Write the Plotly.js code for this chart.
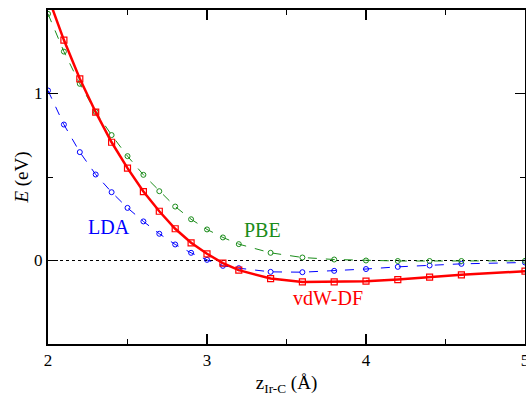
<!DOCTYPE html>
<html>
<head>
<meta charset="utf-8">
<script src="https://cdn.plot.ly/plotly-3.0.1.min.js"></script>
<style>html,body{margin:0;padding:0;background:#fff;}#chart{width:526px;height:396px;}</style>
</head>
<body>
<div id="chart"></div>
<script>
// Ir-C distance (Å)
const zLDA = [2.0,2.1,2.2,2.3,2.4,2.5,2.6,2.7,2.8,2.9,3.0,3.1,3.2,3.4,3.6,3.8,4.0,4.2,4.4,4.6,5.0];
const eLDA = [1.018,0.814,0.649,0.515,0.409,0.315,0.234,0.160,0.096,0.046,0.004,-0.032,-0.046,-0.068,-0.070,-0.062,-0.051,-0.038,-0.030,-0.020,-0.012];
const zPBE = [2.0,2.1,2.2,2.3,2.4,2.5,2.6,2.7,2.8,2.9,3.0,3.1,3.2,3.4,3.6,3.8,4.0,4.2,4.4,4.6,5.0];
const ePBE = [1.477,1.251,1.058,0.890,0.751,0.625,0.513,0.415,0.323,0.247,0.186,0.138,0.098,0.046,0.018,0.006,0.000,-0.003,-0.003,-0.003,-0.002];
const zVDW = [2.0,2.1,2.2,2.3,2.4,2.5,2.6,2.7,2.8,2.9,3.0,3.1,3.2,3.4,3.6,3.8,4.0,4.2,4.4,4.6,5.0];
const eVDW = [1.58,1.320,1.088,0.888,0.708,0.553,0.413,0.295,0.190,0.106,0.040,-0.016,-0.058,-0.108,-0.128,-0.128,-0.124,-0.114,-0.100,-0.086,-0.064];
const labels = ["LDA","PBE","vdW-DF"];
const labelX = [2.386,3.348,3.761];
const labelY = [0.20,0.184,-0.222];
const colors = ["#0000ff","#1a8c1a","#ff0000"];
const SERIF = "Liberation Serif";

const traces = [
  {x: zLDA, y: eLDA, mode: "lines+markers", line: {color: colors[0], width: 1, dash: "dash"},
   marker: {symbol: "circle-open", size: 5, color: colors[0], line: {width: 1, color: colors[0]}}},
  {x: zPBE, y: ePBE, mode: "lines+markers", line: {color: colors[1], width: 1, dash: "dash"},
   marker: {symbol: "circle-open", size: 5, color: colors[1], line: {width: 1, color: colors[1]}}},
  {x: zVDW, y: eVDW, mode: "lines+markers", line: {color: colors[2], width: 2.5},
   marker: {symbol: "square-open", size: 6, color: colors[2], line: {width: 1.2, color: colors[2]}}}
];

const axisCommon = {
  showline: true, linecolor: "#000", linewidth: 2, mirror: "allticks",
  ticks: "inside", ticklen: 10, tickwidth: 1.5, tickcolor: "#000",
  showgrid: false, zeroline: false, ticklabeloverflow: "allow",
  tickfont: {family: SERIF, size: 17, color: "#000"}
};

const layout = {
  width: 526, height: 396,
  margin: {l: 48, r: 1, t: 10, b: 52},
  showlegend: false,
  paper_bgcolor: "#fff", plot_bgcolor: "#fff",
  font: {family: SERIF, color: "#000"},
  xaxis: Object.assign({}, axisCommon, {
    range: [2, 5], dtick: 1, tick0: 2,
    minor: {dtick: 0.5, ticks: "inside", ticklen: 5, tickwidth: 1, tickcolor: "#000"},
    title: {text: "z<sub>Ir-C</sub> (Å)", font: {size: 19, family: SERIF, color: "#000"}, standoff: 6}
  }),
  yaxis: Object.assign({}, axisCommon, {
    range: [-0.5, 1.5], dtick: 1, tick0: 0,
    minor: {dtick: 0.5, ticks: "inside", ticklen: 5, tickwidth: 1, tickcolor: "#000"},
    title: {text: "<i>E</i> (eV)", font: {size: 19, family: SERIF, color: "#000"}, standoff: 0}
  }),
  shapes: [{type: "line", xref: "paper", x0: 0, x1: 1, yref: "y", y0: 0, y1: 0,
            line: {color: "#000", width: 1, dash: "dot"}, layer: "below"}],
  annotations: labels.map((t, i) => ({
    x: labelX[i], y: labelY[i], text: t, showarrow: false,
    font: {family: SERIF, size: 20, color: colors[i]}
  }))
};

Plotly.newPlot("chart", traces, layout, {displayModeBar: false, staticPlot: true});
</script>
</body>
</html>
